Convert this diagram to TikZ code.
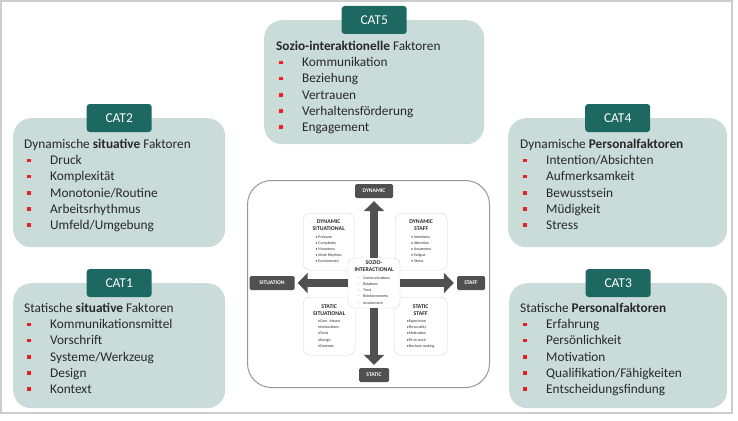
\documentclass[tikz,border=0pt]{standalone}
\usepackage{fontspec}
\setmainfont{Carlito}
\usepackage{tikz}
\usepackage{xcolor}
\usetikzlibrary{arrows.meta,positioning,calc}
\definecolor{catfill}{RGB}{201,220,218}
\definecolor{cattab}{RGB}{30,104,98}
\definecolor{bulred}{RGB}{238,30,36}
\definecolor{framegray}{RGB}{205,205,205}
\definecolor{panelgray}{RGB}{150,150,150}
\definecolor{subgray}{RGB}{215,215,215}
\definecolor{labgray}{RGB}{80,80,80}
\definecolor{txtgray}{RGB}{40,40,40}
\newcommand{\redbul}{\textcolor{bulred}{\rule[2.5pt]{3.6pt}{3.6pt}}}
\newcommand{\catitem}[1]{\hspace*{3pt}\makebox[23pt][l]{\redbul}#1}
\newcommand{\subhead}[1]{{\fontsize{5.8}{7}\selectfont\bfseries\begin{tabular}{@{}c@{}}#1\end{tabular}}}
\newcommand{\sublist}[1]{{\fontsize{3.9}{6.2}\selectfont\begin{tabular}{@{}l@{}}#1\end{tabular}}}
\tikzset{
  catbox/.style={fill=catfill, rounded corners=18pt, anchor=north west},
  cattab/.style={fill=cattab, rounded corners=3pt, minimum width=65pt, minimum height=28pt, text=white, font=\fontsize{13.5}{15}\selectfont},
  cattext/.style={anchor=north west, inner sep=0pt, align=left, text=txtgray, font=\fontsize{13.3}{16.2}\selectfont},
  subbox/.style={draw=subgray, fill=white, rounded corners=7pt, anchor=north west, align=center, inner sep=1pt, text=txtgray},
  lab/.style={fill=labgray, rounded corners=1.5pt, text=white, minimum height=14pt, inner sep=2pt, font=\fontsize{5.6}{6}\selectfont\bfseries},
  bigarrow/.style={-{Triangle[length=10pt,width=20pt]}, line width=8pt, labgray, shorten >=3pt}
}
\begin{document}
\begin{tikzpicture}[x=1pt, y=-1pt]
  \useasboundingbox (0,0) rectangle (738,420);
  \draw[framegray, line width=2pt] (1,1) rectangle (732,413);

  % categories round the model
  \node[catbox, minimum width=220pt, minimum height=124pt] (c5) at (264,20) {};
  \node[cattab] (c5tab) at (c5.north) {CAT5};
  \node[cattext] (c5txt) at ($(c5.north west)+(12pt,-21pt)$) {\textbf{Sozio-interaktionelle} Faktoren\\
    \catitem{Kommunikation}\\ \catitem{Beziehung}\\ \catitem{Vertrauen}\\
    \catitem{Verhaltensförderung}\\ \catitem{Engagement}};

  \node[catbox, minimum width=212pt, minimum height=129pt] (c2) at (13,118) {};
  \node[cattab] (c2tab) at (c2.north) {CAT2};
  \node[cattext] (c2txt) at ($(c2.north west)+(11pt,-21pt)$) {Dynamische \textbf{situative} Faktoren\\
    \catitem{Druck}\\ \catitem{Komplexität}\\ \catitem{Monotonie/Routine}\\
    \catitem{Arbeitsrhythmus}\\ \catitem{Umfeld/Umgebung}};

  \node[catbox, minimum width=212pt, minimum height=125pt] (c1) at (13,283) {};
  \node[cattab] (c1tab) at (c1.north) {CAT1};
  \node[cattext] (c1txt) at ($(c1.north west)+(11pt,-20pt)$) {Statische \textbf{situative} Faktoren\\
    \catitem{Kommunikationsmittel}\\ \catitem{Vorschrift}\\ \catitem{Systeme/Werkzeug}\\
    \catitem{Design}\\ \catitem{Kontext}};

  \node[catbox, minimum width=219pt, minimum height=129pt] (c4) at (508,118) {};
  \node[cattab] (c4tab) at (c4.north) {CAT4};
  \node[cattext] (c4txt) at ($(c4.north west)+(12pt,-21pt)$) {Dynamische \textbf{Personalfaktoren}\\
    \catitem{Intention/Absichten}\\ \catitem{Aufmerksamkeit}\\ \catitem{Bewusstsein}\\
    \catitem{Müdigkeit}\\ \catitem{Stress}};

  \node[catbox, minimum width=218pt, minimum height=125pt] (c3) at (509,283) {};
  \node[cattab] (c3tab) at (c3.north) {CAT3};
  \node[cattext] (c3txt) at ($(c3.north west)+(11pt,-20pt)$) {Statische \textbf{Personalfaktoren}\\
    \catitem{Erfahrung}\\ \catitem{Persönlichkeit}\\ \catitem{Motivation}\\
    \catitem{Qualifikation/Fähigkeiten}\\ \catitem{Entscheidungsfindung}};

  % model in the middle
  \node[draw=panelgray, line width=1pt, rounded corners=24pt, minimum width=242pt, minimum height=207pt, anchor=north west] (panel) at (247,180) {};

  \node[subbox, minimum width=51pt, minimum height=57pt] (dsit) at (303,213) {\subhead{DYNAMIC\\ SITUATIONAL}\\
    \sublist{• Pressure\\ • Complexity\\ • Monotony\\ • Work Rhythms\\ • Environment}};
  \node[subbox, minimum width=52pt, minimum height=57pt] (dstf) at (395,213) {\subhead{DYNAMIC\\ STAFF}\\
    \sublist{• Intentions\\ • Attention\\ • Awareness\\ • Fatigue\\ • Stress}};
  \node[subbox, minimum width=52pt, minimum height=58pt] (ssit) at (303,297) {\subhead{STATIC\\ SITUATIONAL}\\
    \sublist{•Com. Means\\ •Instructions\\ •Tools\\ •Design\\ •Contexts}};
  \node[subbox, minimum width=53pt, minimum height=58pt] (sstf) at (394,297) {\subhead{STATIC\\ STAFF}\\
    \sublist{•Experience\\ •Personality\\ •Motivation\\ •Fit to work\\ •Decision making}};

  \node[draw=subgray, fill=white, rounded corners=6pt, align=center, inner sep=1pt, text=txtgray, minimum width=52pt, minimum height=50pt] (soz) at (374,283) {\subhead{SOZIO-\\ INTERACTIONAL}\\
    \sublist{-\quad Communications\\ -\quad Relations\\ -\quad Trust\\ -\quad Reinforcements\\ -\quad Involvement}};

  \node[lab, minimum width=38pt] (dyn) at (374,191) {DYNAMIC};
  \node[lab, minimum width=30pt] (sta) at (374,375) {STATIC};
  \node[lab, minimum width=45pt] (sit) at (272,283) {SITUATION};
  \node[lab, minimum width=28pt] (stf) at (471,283) {STAFF};

  \draw[bigarrow] (soz) -- (dyn);
  \draw[bigarrow] (soz) -- (sta);
  \draw[bigarrow] (soz) -- (sit);
  \draw[bigarrow] (soz) -- (stf);
\end{tikzpicture}
\end{document}
